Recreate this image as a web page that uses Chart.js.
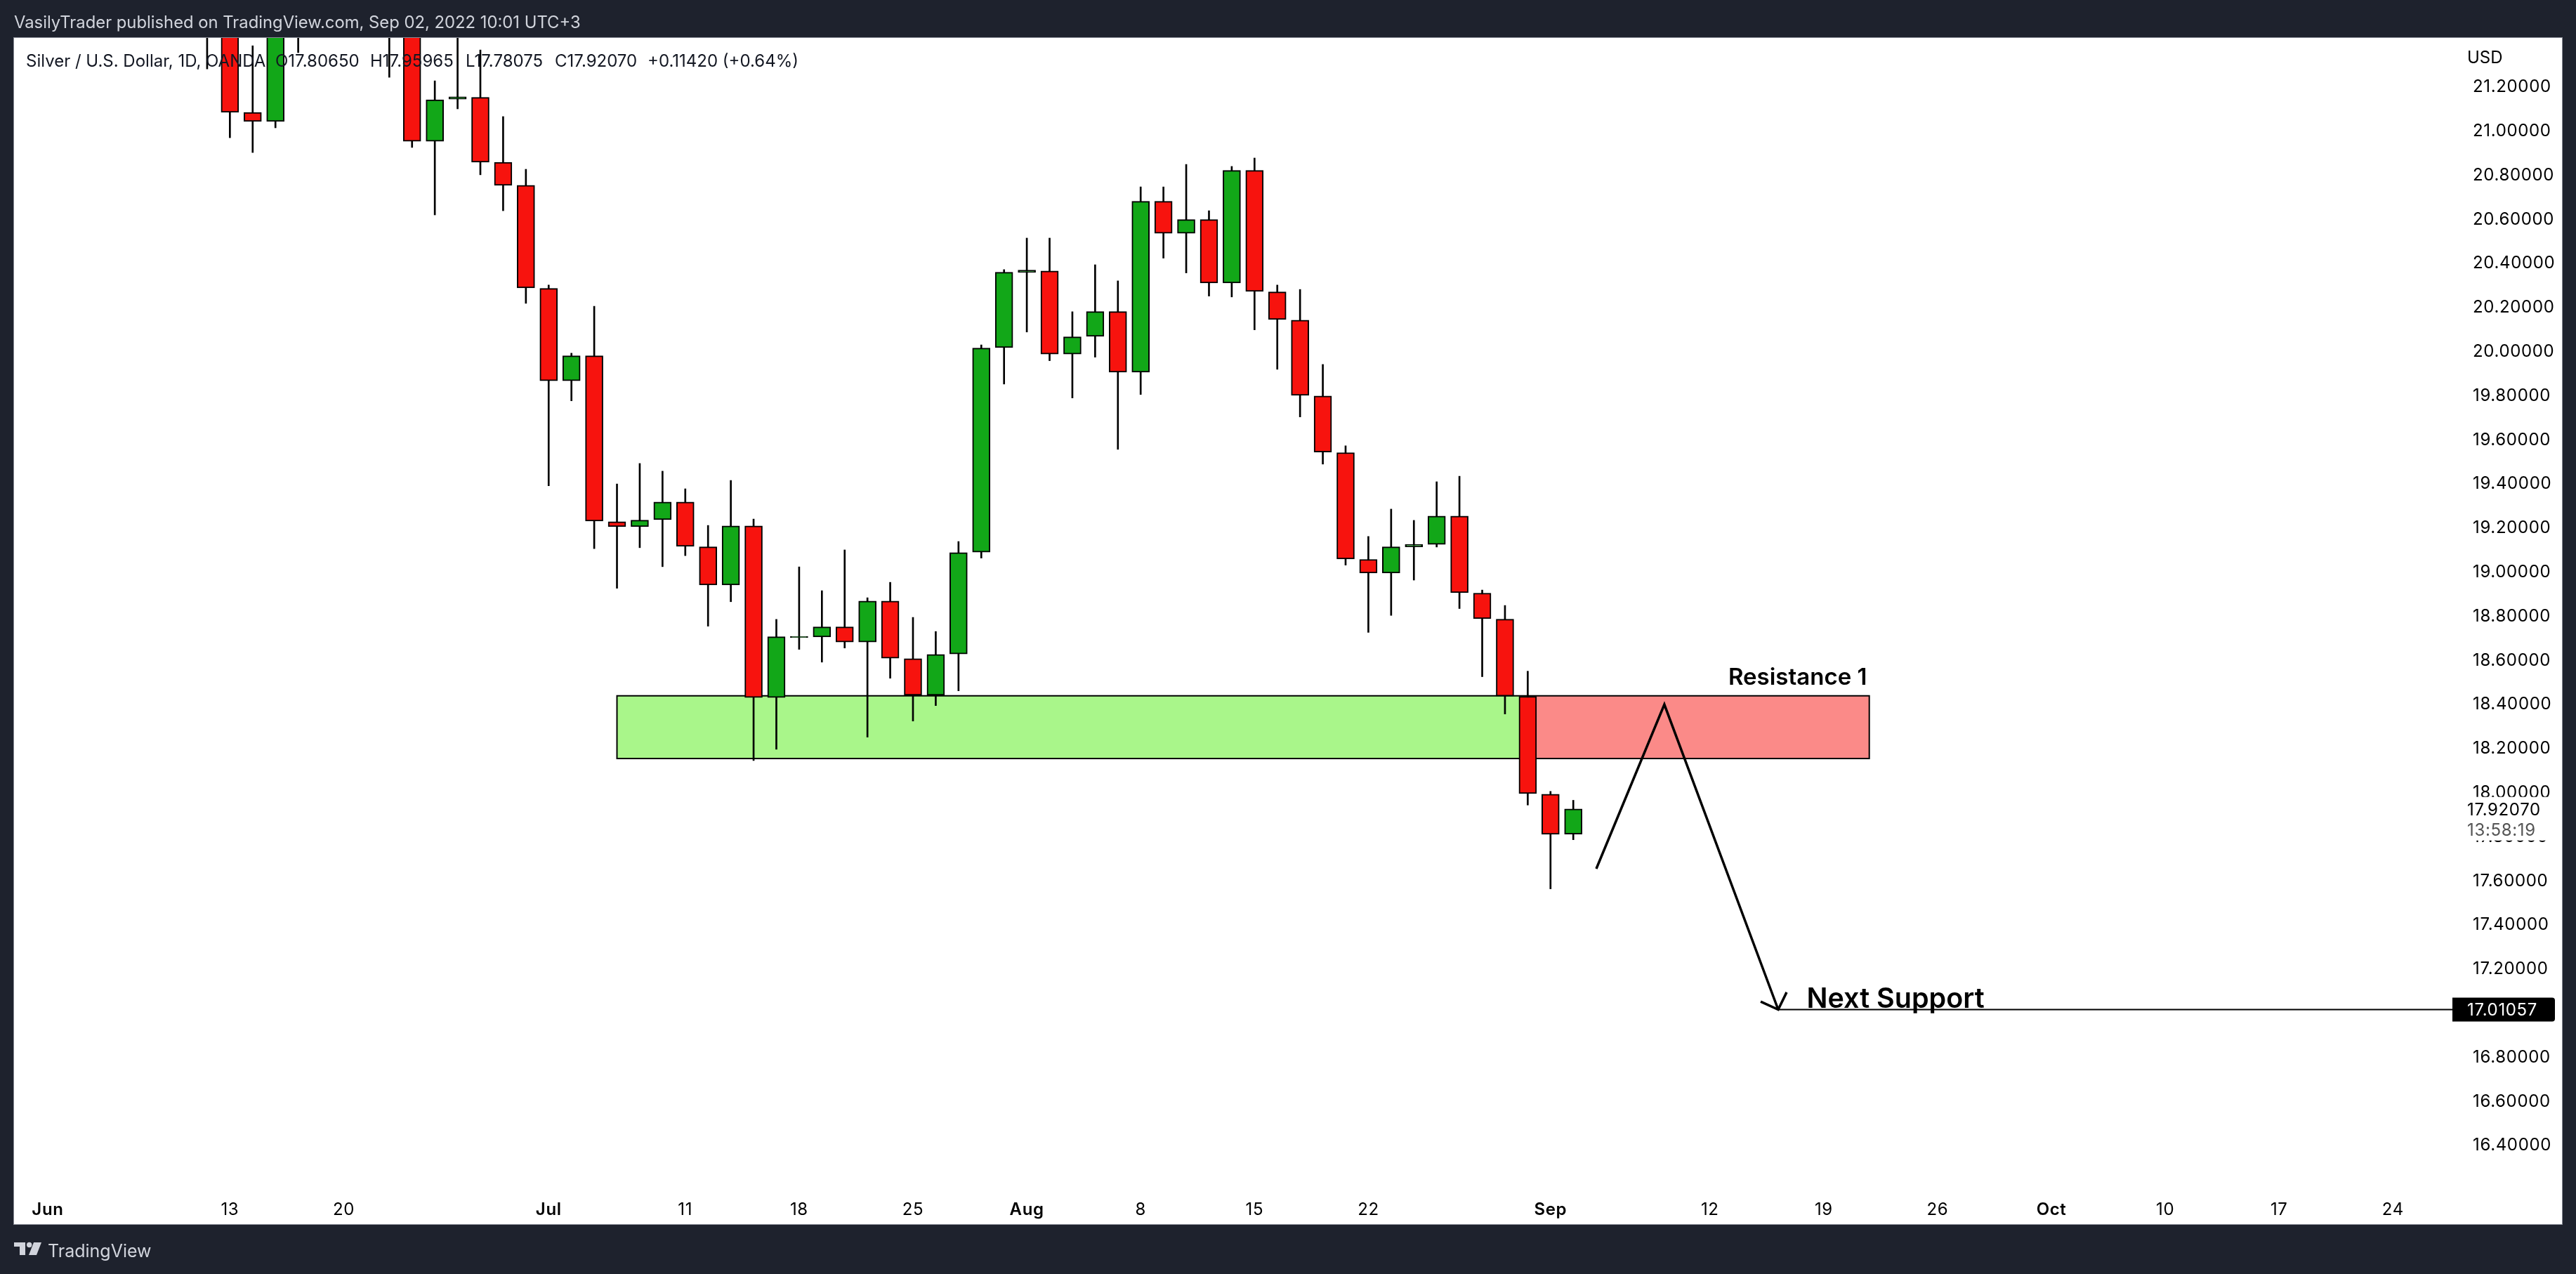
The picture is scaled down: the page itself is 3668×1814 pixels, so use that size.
<!DOCTYPE html>
<html>
<head>
<meta charset="utf-8">
<title>Silver / U.S. Dollar</title>
<script src="https://cdn.jsdelivr.net/npm/chart.js"></script>
<style>
  html, body { margin: 0; padding: 0; background: #1e222d; }
  canvas { display: block; }
</style>
</head>
<body>
<canvas id="chart" width="3668" height="1814"></canvas>
<script>
// ── DATA ────────────────────────────────────────────────────
// Bars are numbered by trading day, 0 = Jun 1 2022. Bars 0-6 are above the pane.
const firstBar = 7;
const opens = [21.6, 21.55, 21.079, 21.038, 21.55, null, null, null, 21.6, 21.55, 20.948, 21.139, 21.147, 20.853, 20.748, 20.281, 19.862, 19.975,
  19.223, 19.2, 19.232, 19.312, 19.109, 18.936, 19.204, 18.426, 18.697, 18.7, 18.746, 18.677, 18.863, 18.602, 18.436, 18.623, 19.085, 20.012, 20.353,
  20.36, 19.983, 20.063, 20.176, 19.901, 20.676, 20.531, 20.593, 20.305, 20.816, 20.265, 20.137, 19.793, 19.536, 19.052, 18.99, 19.109, 19.12, 19.248,
  18.899, 18.781, 18.431, 17.987, 17.8065];
const highs = [21.9, 21.7, 21.381, 21.7, 21.7, null, null, null, 21.8, 21.7, 21.222, 21.45, 21.362, 21.06, 20.821, 20.296, 19.987, 20.2,
  19.394, 19.487, 19.452, 19.372, 19.206, 19.41, 19.235, 18.78, 19.018, 18.91, 19.095, 18.878, 18.948, 18.789, 18.725, 19.133, 20.025, 20.366, 20.509,
  20.509, 20.175, 20.388, 20.315, 20.741, 20.741, 20.843, 20.633, 20.834, 20.872, 20.296, 20.276, 19.936, 19.567, 19.156, 19.28, 19.229, 19.404, 19.429,
  18.913, 18.843, 18.545, 18.0, 17.95965];
const lows = [21.276, 20.964, 20.897, 21.009, 21.35, null, null, null, 21.238, 20.92, 20.614, 21.095, 20.796, 20.633, 20.213, 19.386, 19.771, 19.101,
  18.921, 19.105, 19.019, 19.069, 18.749, 18.86, 18.14, 18.191, 18.644, 18.586, 18.65, 18.246, 18.513, 18.319, 18.389, 18.456, 19.058, 19.847, 20.083,
  19.953, 19.784, 19.969, 19.551, 19.8, 20.418, 20.351, 20.246, 20.242, 20.093, 19.914, 19.698, 19.484, 19.026, 18.721, 18.798, 18.958, 19.108, 18.829,
  18.52, 18.351, 17.938, 17.558, 17.78075];
const closes = [21.5, 21.079, 21.038, 21.55, 21.5, null, null, null, 21.5, 20.948, 21.136, 21.15, 20.853, 20.748, 20.283, 19.862, 19.975, 19.226,
  19.2, 19.23, 19.312, 19.111, 18.936, 19.204, 18.426, 18.701, 18.703, 18.746, 18.677, 18.863, 18.604, 18.436, 18.621, 19.083, 20.01, 20.354, 20.364,
  19.983, 20.061, 20.176, 19.901, 20.676, 20.531, 20.593, 20.305, 20.816, 20.267, 20.14, 19.796, 19.539, 19.054, 18.99, 19.109, 19.12, 19.248, 18.901,
  18.783, 18.432, 17.99, 17.805, 17.9207];

const priceTicks = [16.4, 16.6, 16.8, 17.0, 17.2, 17.4, 17.6, 17.8, 18.0, 18.2, 18.4, 18.6, 18.8, 19.0, 19.2, 19.4,
  19.6, 19.8, 20.0, 20.2, 20.4, 20.6, 20.8, 21.0, 21.2];
const timeTicks = [0, 8, 13, 22, 28, 33, 38, 43, 48, 53, 58, 66, 73, 78, 83, 88, 93, 98, 103];
const timeLabels = ['Jun', '13', '20', 'Jul', '11', '18', '25', 'Aug', '8', '15', '22', 'Sep', '12', '19', '26', 'Oct', '10', '17', '24'];
const monthLabels = ['Jun', 'Jul', 'Aug', 'Sep', 'Oct'];

// Drawings on the chart
const zoneTop = 18.4334, zoneBottom = 18.149;
const greenZone = [25, 65];
const redZone = [65, 80];
const pathX = [68.01, 71, 76];
const pathY = [17.649, 18.394, 17.01057];
const arrowX = [75.23, 76, 76.37];
const arrowY = [17.047, 17.01057, 17.089];
const supportX = [76, 105.61];
const supportY = [17.01057, 17.01057];
const lastClose = 17.9207;
const supportPrice = 17.01057;
const countdown = '13:58:19';

// ── COLOURS AND FONT ────────────────────────────────────────
const FONT = 'Inter, "Noto Sans", sans-serif';
const INK = '#131722';
const UP = '#12a718';
const DOWN = '#f7130e';
const AXIS_SPACING = '0.65px';

function toPoints(xs, ys) {
  return xs.map((x, i) => ({ x, y: ys[i] }));
}

const wickData = [];
const bodyData = [];
const bodyColors = [];
opens.forEach((open, i) => {
  if (open === null) return;
  wickData.push({ x: firstBar + i, y: [lows[i], highs[i]] });
  bodyData.push({ x: firstBar + i, y: [open, closes[i]] });
  bodyColors.push(closes[i] >= open ? UP : DOWN);
});

// ── PANE, ZONES AND TEXT ────────────────────────────────────
function text(c, str, x, y, font, color, align) {
  c.font = font;
  c.fillStyle = color;
  c.textAlign = align || 'left';
  c.textBaseline = 'alphabetic';
  c.fillText(str, x, y);
}

const paneBack = {
  id: 'paneBack',
  beforeDraw(chart) {
    const c = chart.ctx;
    c.save();
    c.fillStyle = '#1e222d';
    c.fillRect(0, 0, chart.width, chart.height);
    c.fillStyle = '#ffffff';
    c.fillRect(20, 54, 3628, 1689);
    c.strokeStyle = '#868993';
    c.lineWidth = 1;
    c.strokeRect(19.5, 53.5, 3629, 1690);
    c.restore();
    // axis text is a bit wider than Inter and sits 2px lower than canvas "middle"
    c.letterSpacing = AXIS_SPACING;
    chart.scales.y.getLabelItems().forEach(item => { item.textOffset = 2; });
  }
};

function drawZone(chart, span, fill) {
  const { x, y } = chart.scales;
  const c = chart.ctx;
  const left = x.getPixelForValue(span[0]);
  const right = x.getPixelForValue(span[1]);
  const top = y.getPixelForValue(zoneTop);
  const bottom = y.getPixelForValue(zoneBottom);
  c.fillStyle = fill;
  c.fillRect(left, top, right - left, bottom - top);
  c.strokeStyle = '#000000';
  c.lineWidth = 2;
  c.strokeRect(left, top, right - left, bottom - top);
}

const zones = {
  id: 'zones',
  beforeDatasetsDraw(chart) {
    chart.ctx.save();
    drawZone(chart, redZone, '#fb8a88');
    drawZone(chart, greenZone, '#a9f68a');
    chart.ctx.restore();
  }
};

const overlays = {
  id: 'overlays',
  afterDraw(chart) {
    const c = chart.ctx;
    const { x, y } = chart.scales;
    c.save();
    c.letterSpacing = '0px';

    // header and footer
    text(c, 'VasilyTrader published on TradingView.com, Sep 02, 2022 10:01 UTC+3', 20, 40, '23.8px ' + FONT, '#d1d4dc');
    text(c, 'TradingView', 68, 1790, '25px ' + FONT, '#d1d4dc');
    c.fillStyle = '#d1d4dc';
    c.fillRect(20, 1769, 16, 6);
    c.fillRect(28, 1769, 8, 18);
    c.beginPath();
    c.arc(41.7, 1772.5, 3.7, 0, Math.PI * 2);
    c.fill();
    c.beginPath();
    c.moveTo(48, 1769);
    c.lineTo(59, 1769);
    c.lineTo(52, 1787);
    c.lineTo(41, 1787);
    c.fill();

    // legend line
    const legendFont = '24px ' + FONT;
    text(c, 'Silver / U.S. Dollar, 1D, OANDA', 37, 95, legendFont, INK);
    text(c, 'O17.80650', 392, 95, legendFont, INK);
    text(c, 'H17.95965', 527, 95, legendFont, INK);
    text(c, 'L17.78075', 663, 95, legendFont, INK);
    text(c, 'C17.92070', 790, 95, legendFont, INK);
    text(c, '+0.11420 (+0.64%)', 922, 95, legendFont, INK);

    // annotations
    text(c, 'Resistance 1', x.getPixelForValue(79.9), y.getPixelForValue(18.483), '600 33px ' + FONT, '#000000', 'right');
    text(c, 'Next Support', x.getPixelForValue(77.25), y.getPixelForValue(17.018), '600 39.5px ' + FONT, '#000000');

    // price scale tags
    const axisX = 3513;
    text(c, 'USD', axisX, 90, legendFont, '#000000');

    c.letterSpacing = AXIS_SPACING;
    const closeY = y.getPixelForValue(lastClose);
    c.fillStyle = '#ffffff';
    c.fillRect(3493, closeY - 17, 150, 62);
    text(c, lastClose.toFixed(5), axisX, closeY + 9, '24px ' + FONT, '#000000');
    text(c, countdown, axisX, closeY + 38, '24px ' + FONT, '#555555');

    const tagY = y.getPixelForValue(supportPrice);
    c.fillStyle = '#000000';
    c.beginPath();
    c.roundRect(3492, tagY - 17, 146, 34, [0, 4, 4, 0]);
    c.fill();
    text(c, supportPrice.toFixed(5), axisX, tagY + 9, '24px ' + FONT, '#ffffff');

    c.restore();
  }
};

// ── CHART ───────────────────────────────────────────────────
new Chart(document.getElementById('chart').getContext('2d'), {
  type: 'bar',
  data: {
    datasets: [
      { type: 'line', data: toPoints(pathX, pathY), borderColor: '#000000', borderWidth: 3.5, pointRadius: 0, tension: 0 },
      { type: 'line', data: toPoints(arrowX, arrowY), borderColor: '#000000', borderWidth: 3.5, pointRadius: 0, tension: 0 },
      { type: 'line', data: toPoints(supportX, supportY), borderColor: '#000000', borderWidth: 2, pointRadius: 0, tension: 0 },
      { data: bodyData, backgroundColor: bodyColors, borderColor: '#000000', borderWidth: 2, borderSkipped: false, barThickness: 25, grouped: false },
      { data: wickData, backgroundColor: '#000000', borderWidth: 0, barThickness: 2, grouped: false }
    ]
  },
  plugins: [paneBack, zones, overlays],
  options: {
    responsive: false,
    devicePixelRatio: 1,
    animation: false,
    layout: { padding: { left: 20, top: 54, right: 20, bottom: 71 } },
    plugins: {
      legend: { display: false },
      tooltip: { enabled: false }
    },
    scales: {
      x: {
        type: 'linear',
        offset: false,
        min: -1.48,
        max: 105.61,
        afterBuildTicks: scale => { scale.ticks = timeTicks.map(value => ({ value })); },
        afterFit: scale => { scale.height = 53; },
        grid: { display: false },
        border: { display: false },
        ticks: {
          autoSkip: false,
          maxRotation: 0,
          padding: 10,
          color: '#000000',
          font: ctx => ({
            family: FONT,
            size: 24,
            weight: monthLabels.includes(timeLabels[timeTicks.indexOf(ctx.tick && ctx.tick.value)]) ? '600' : '400'
          }),
          callback: value => timeLabels[timeTicks.indexOf(value)]
        }
      },
      y: {
        type: 'linear',
        position: 'right',
        min: 16.2064,
        max: 21.4166,
        afterBuildTicks: scale => { scale.ticks = priceTicks.map(value => ({ value })); },
        afterFit: scale => { scale.width = 156; },
        grid: { display: false },
        border: { display: false },
        ticks: {
          autoSkip: false,
          padding: 21,
          color: '#000000',
          font: { family: FONT, size: 24 },
          callback: value => value.toFixed(5)
        }
      }
    }
  }
});
</script>
</body>
</html>
